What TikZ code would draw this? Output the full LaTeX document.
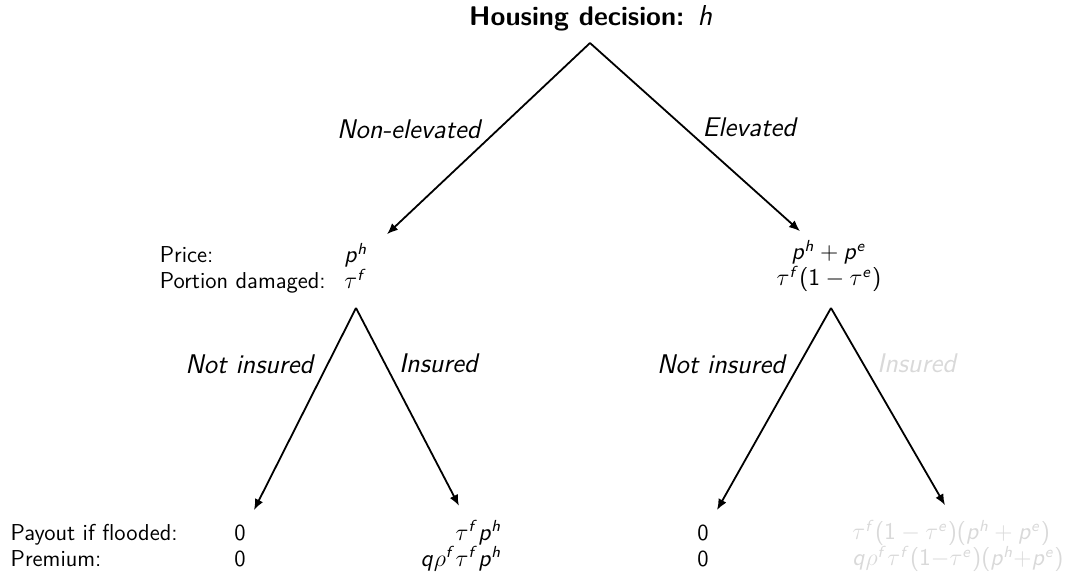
\documentclass[11pt,tikz,border=0pt]{standalone}
\usetikzlibrary{arrows.meta,positioning,scopes}
\renewcommand{\familydefault}{\sfdefault}
% sans italic letters in math, as on a slide
\DeclareSymbolFont{sfit}{OT1}{cmss}{m}{sl}
\SetSymbolFont{operators}{normal}{OT1}{cmss}{m}{n}
\DeclareMathSymbol{p}{\mathalpha}{sfit}{`p}
\DeclareMathSymbol{h}{\mathalpha}{sfit}{`h}
\DeclareMathSymbol{e}{\mathalpha}{sfit}{`e}
\DeclareMathSymbol{f}{\mathalpha}{sfit}{`f}
\DeclareMathSymbol{q}{\mathalpha}{sfit}{`q}
\newcommand{\valfont}{\fontsize{11.5}{13}\selectfont\lineskiplimit-20pt\relax}
\tikzset{
  >={Latex[length=5.5pt,width=4.5pt]},
  lab/.style={font=\fontsize{13.5}{16}\selectfont\itshape},
  val/.style={align=left, inner xsep=0pt, font=\valfont},
  mid/.style={val, inner ysep=4pt},
  leaf/.style={val, inner ysep=7pt},
  na/.style={text=black!15}
}

\begin{document}
\begin{tikzpicture}[x=0.5pt, y=-0.5pt, line width=0.9pt]
  \useasboundingbox (0,0) rectangle (1066,576);
  \node[font=\fontsize{13.5}{16}\selectfont\bfseries] (top) at (591,18) {Housing decision: $h$};
  \coordinate (tapex) at (590,43);

  \node[mid] (ne) at (356,266) {$p^h$\\$\tau^f$};
  \node[mid, align=center] (el) at (829,266) {$p^h+p^e$\\$\tau^f(1-\tau^e)$};
  \node[val, base left=8.5pt of ne] (rowa) {Price:\\Portion damaged:};
  \coordinate (neb) at (356,308);
  \coordinate (elb) at (831,308);

  \node[leaf] (ne0) at (240,546) {0\\0};
  \node[leaf, align=right] (nei) at (461,546) {$\tau^f p^h$\\$q\rho^f\tau^f p^h$};
  \node[leaf] (el0) at (703,546) {0\\0};
  \node[leaf, na] (eli) at (958,546) {$\tau^f(1-\tau^e)(p^h+p^e)$\\$q\rho^f\tau^f(1{-}\tau^e)(p^h{+}p^e)$};
  \node[val, base left=27.5pt of ne0] (rowb) {Payout if flooded:\\Premium:};

  {[->]
  \draw (tapex) -- ([xshift=15.5pt]ne.north) node[lab, pos=0.45, left=5pt] {Non-elevated};
  \draw (tapex) -- ([xshift=-14.5pt]el.north) node[lab, pos=0.45, right=5pt] {Elevated};
  \draw (neb) -- ([xshift=7pt]ne0.north) node[lab, pos=0.28, left=3pt] {Not insured};
  \draw (neb) -- ([xshift=-1pt]nei.north) node[lab, pos=0.28, right=3pt] {Insured};
  \draw (elb) -- ([xshift=7pt]el0.north) node[lab, pos=0.28, left=3pt] {Not insured};
  \draw (elb) -- ([xshift=-6.5pt]eli.north) node[lab, na, pos=0.28, right=3pt] {Insured};
  }
\end{tikzpicture}
\end{document}
